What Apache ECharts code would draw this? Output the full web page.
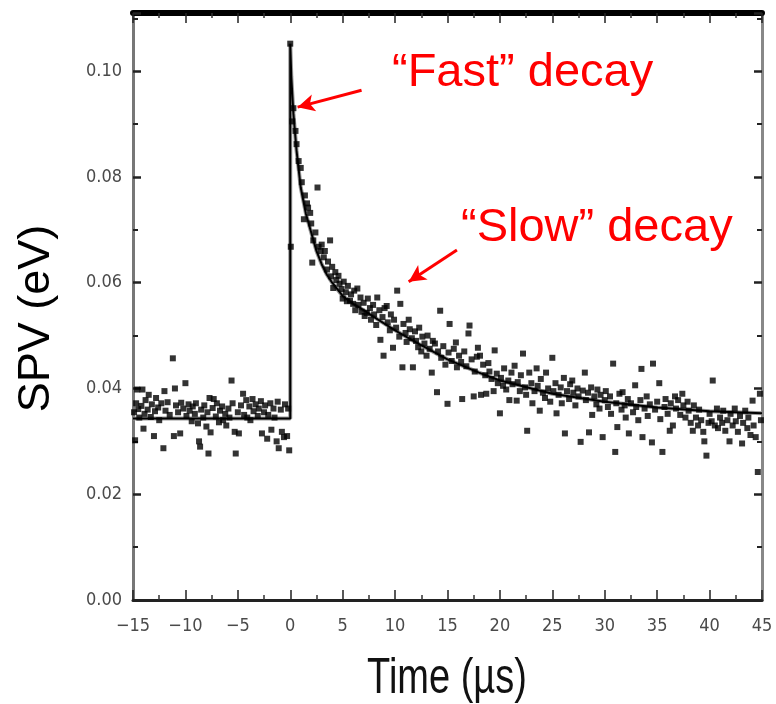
<!DOCTYPE html>
<html>
<head>
<meta charset="utf-8">
<script src="https://cdn.jsdelivr.net/npm/echarts@6/dist/echarts.min.js"></script>
<style>
html,body{margin:0;padding:0;background:#fff;}
#chart{width:776px;height:704px;}
</style>
</head>
<body>
<div id="chart"></div>
<script>
// x tick range (µs) and y range (eV)
var xTicks = [-15, -10, -5, 0, 5, 10, 15, 20, 25, 30, 35, 40, 45];
var yTicks = [0.00, 0.02, 0.04, 0.06, 0.08, 0.10];

// measured points before the pulse (t < 0)
var prePulse = [
[-14.9,0.0355],[-14.8,0.0302],[-14.7,0.0372],[-14.6,0.0398],[-14.5,0.0361],[-14.4,0.0345],[-14.2,0.0367],[-14.1,0.0398],[-14.0,0.0324],[-13.9,0.0352],[-13.8,0.0378],[-13.6,0.0360],[-13.5,0.0388],[-13.3,0.0346],[-13.2,0.0370],[-13.0,0.0310],[-12.9,0.0357],[-12.8,0.0382],[-12.6,0.0364],[-12.5,0.0340],[-12.3,0.0372],[-12.1,0.0287],[-12.0,0.0395],[-11.9,0.0358],[-11.7,0.0374],[-11.5,0.0350],[-11.2,0.0457],[-11.1,0.0310],[-11.0,0.0400],[-10.9,0.0368],[-10.7,0.0355],[-10.5,0.0315],[-10.4,0.0373],[-10.2,0.0362],[-10.0,0.0410],[-9.9,0.0348],[-9.7,0.0370],[-9.6,0.0358],[-9.4,0.0338],[-9.3,0.0366],[-9.1,0.0352],[-9.0,0.0372],[-8.8,0.0334],[-8.7,0.0300],[-8.6,0.0290],[-8.5,0.0360],[-8.3,0.0345],[-8.2,0.0368],[-8.0,0.0328],[-7.9,0.0355],[-7.8,0.0277],[-7.7,0.0382],[-7.6,0.0317],[-7.4,0.0363],[-7.3,0.0380],[-7.1,0.0347],[-7.0,0.0372],[-6.8,0.0336],[-6.7,0.0358],[-6.5,0.0366],[-6.4,0.0340],[-6.2,0.0352],[-6.1,0.0330],[-5.9,0.0362],[-5.8,0.0345],[-5.6,0.0415],[-5.5,0.0372],[-5.3,0.0318],[-5.2,0.0277],[-5.0,0.0355],[-4.9,0.0315],[-4.7,0.0368],[-4.5,0.0390],[-4.4,0.0350],[-4.2,0.0378],[-4.1,0.0345],[-3.9,0.0366],[-3.8,0.0340],[-3.6,0.0380],[-3.5,0.0357],[-3.3,0.0370],[-3.1,0.0348],[-3.0,0.0362],[-2.8,0.0376],[-2.7,0.0315],[-2.5,0.0355],[-2.4,0.0368],[-2.2,0.0305],[-2.1,0.0350],[-1.9,0.0372],[-1.8,0.0322],[-1.6,0.0362],[-1.5,0.0345],[-1.3,0.0300],[-1.2,0.0375],[-1.1,0.0287],[-0.9,0.0360],[-0.8,0.0318],[-0.6,0.0308],[-0.5,0.0370],[-0.3,0.0310],[-0.2,0.0362],[-0.1,0.0283]
];

// measured points, fast decay region (0 - 12 µs)
var fastDecay = [
[0.0,0.1052],[0.05,0.0668],[0.2,0.0905],[0.3,0.0930],[0.5,0.0887],[0.6,0.0862],[0.8,0.0830],[1.0,0.0817],[1.1,0.0790],[1.3,0.0720],[1.4,0.0765],[1.6,0.0750],[1.7,0.0742],[1.9,0.0732],[2.0,0.0712],[2.1,0.0638],[2.2,0.0680],[2.4,0.0695],[2.6,0.0780],[2.7,0.0668],[2.9,0.0660],[3.0,0.0672],[3.2,0.0648],[3.3,0.0660],[3.5,0.0625],[3.6,0.0640],[3.8,0.0680],[3.9,0.0612],[4.0,0.0630],[4.1,0.0590],[4.3,0.0620],[4.4,0.0605],[4.6,0.0613],[4.7,0.0598],[4.9,0.0588],[5.0,0.0570],[5.1,0.0602],
[5.3,0.0582],[5.4,0.0565],[5.5,0.0594],[5.7,0.0566],[5.8,0.0578],[6.0,0.0560],[6.1,0.0585],[6.2,0.0548],[6.4,0.0589],[6.5,0.0558],[6.7,0.0572],[6.8,0.0545],[7.0,0.0562],[7.1,0.0537],[7.3,0.0543],[7.4,0.0570],[7.6,0.0552],[7.7,0.0530],[7.9,0.0558],[8.0,0.0540],[8.2,0.0520],[8.3,0.0572],[8.5,0.0548],[8.6,0.0492],[8.8,0.0535],[8.9,0.0462],[9.0,0.0552],[9.2,0.0556],[9.3,0.0525],[9.5,0.0510],[9.6,0.0540],[9.8,0.0477],[9.9,0.0530],[10.1,0.0515],[10.2,0.0585],[10.4,0.0498],[10.5,0.0560],[10.7,0.0440],[10.8,0.0522],[11.0,0.0505],[11.1,0.0488],[11.3,0.0530],[11.4,0.0512],[11.6,0.0495],[11.7,0.0440],[11.9,0.0508]
];

// measured points, slow decay region (12 - 45 µs)
var slowDecay = [
[12.0,0.0490],[12.2,0.0478],[12.3,0.0515],[12.5,0.0470],[12.6,0.0498],[12.8,0.0485],[13.0,0.0462],[13.1,0.0500],[13.3,0.0475],[13.5,0.0430],[13.6,0.0490],[13.8,0.0485],[14.0,0.0393],[14.1,0.0470],[14.3,0.0547],[14.4,0.0458],[14.6,0.0480],[14.8,0.0445],[15.0,0.0371],[15.1,0.0468],[15.2,0.0522],[15.4,0.0452],[15.6,0.0475],[15.8,0.0487],[15.9,0.0440],[16.1,0.0462],[16.3,0.0450],[16.4,0.0380],[16.6,0.0470],[16.8,0.0442],[17.0,0.0504],[17.1,0.0519],[17.3,0.0455],[17.5,0.0385],[17.6,0.0432],[17.8,0.0460],[17.9,0.0477],[18.1,0.0462],[18.2,0.0388],[18.4,0.0445],[18.6,0.0425],[18.7,0.0390],[18.9,0.0448],[19.0,0.0432],[19.2,0.0418],[19.4,0.0395],[19.5,0.0472],[19.7,0.0428],[19.8,0.0410],
[20.0,0.0353],[20.1,0.0420],[20.3,0.0405],[20.4,0.0438],[20.6,0.0398],[20.8,0.0415],[20.9,0.0378],[21.1,0.0430],[21.2,0.0408],[21.4,0.0443],[21.6,0.0377],[21.7,0.0412],[21.9,0.0395],[22.0,0.0425],[22.2,0.0466],[22.4,0.0402],[22.5,0.0388],[22.6,0.0320],[22.8,0.0430],[23.0,0.0410],[23.1,0.0372],[23.3,0.0395],[23.5,0.0438],[23.6,0.0405],[23.8,0.0358],[23.9,0.0418],[24.1,0.0392],[24.3,0.0382],[24.4,0.0430],[24.6,0.0400],[24.8,0.0375],[25.0,0.0458],[25.1,0.0395],[25.3,0.0410],[25.4,0.0353],[25.6,0.0388],[25.8,0.0402],[25.9,0.0372],[26.1,0.0420],[26.2,0.0315],[26.4,0.0395],[26.6,0.0380],[26.7,0.0408],[26.9,0.0415],[27.0,0.0392],[27.2,0.0368],[27.4,0.0400],[27.5,0.0385],[27.7,0.0299],[27.9,0.0396],[28.1,0.0430],[28.2,0.0378],[28.4,0.0392],[28.5,0.0317],[28.7,0.0402],[28.8,0.0350],[29.0,0.0385],[29.2,0.0370],[29.3,0.0398],[29.5,0.0362],[29.6,0.0388],[29.8,0.0308],
[30.0,0.0378],[30.1,0.0395],[30.3,0.0365],[30.5,0.0385],[30.6,0.0352],[30.8,0.0447],[31.0,0.0280],[31.1,0.0372],[31.2,0.0327],[31.4,0.0390],[31.6,0.0360],[31.7,0.0393],[31.9,0.0368],[32.0,0.0345],[32.2,0.0380],[32.3,0.0315],[32.5,0.0372],[32.7,0.0355],[32.9,0.0406],[33.0,0.0365],[33.2,0.0340],[33.4,0.0378],[33.5,0.0437],[33.6,0.0308],[33.8,0.0362],[34.0,0.0385],[34.1,0.0348],[34.3,0.0370],[34.5,0.0298],[34.6,0.0447],[34.8,0.0360],[35.0,0.0375],[35.2,0.0410],[35.3,0.0342],[35.5,0.0280],[35.7,0.0365],[35.8,0.0380],[36.0,0.0352],[36.2,0.0320],[36.3,0.0372],[36.5,0.0330],[36.7,0.0385],[36.8,0.0362],[37.0,0.0378],[37.2,0.0350],[37.4,0.0390],[37.5,0.0368],[37.7,0.0345],[37.9,0.0375],[38.0,0.0358],[38.2,0.0335],[38.4,0.0320],[38.5,0.0368],[38.7,0.0345],[38.9,0.0330],[39.0,0.0360],[39.2,0.0340],[39.4,0.0318],[39.5,0.0300],[39.7,0.0273],[39.9,0.0335],[40.0,0.0352],[40.2,0.0338],[40.3,0.0415],[40.5,0.0330],[40.7,0.0362],[40.8,0.0325],[41.0,0.0345],[41.2,0.0335],[41.3,0.0358],[41.5,0.0320],[41.7,0.0340],[41.9,0.0300],[42.0,0.0352],[42.2,0.0330],[42.4,0.0362],[42.5,0.0338],[42.7,0.0318],[42.9,0.0348],[43.1,0.0296],[43.2,0.0335],[43.4,0.0358],[43.6,0.0325],[43.7,0.0345],[43.9,0.0312],[44.1,0.0377],[44.2,0.0330],[44.4,0.0308],[44.6,0.0242],[44.8,0.0390],[44.9,0.0340]
];

// fitted curve
var fitCurve = [
[-15,0.0343],[0,0.0343],[0,0.1052],[0.1,0.0990],[0.3,0.0920],[0.6,0.0850],[1.0,0.0780],[1.5,0.0730],[2.0,0.0695],[2.5,0.0660],[3.0,0.0635],[3.5,0.0615],[4,0.0600],[5,0.0575],[6,0.0560],[7,0.0548],[8,0.0535],[10,0.0510],[12,0.0487],[15,0.0455],[18,0.0430],[20,0.0415],[25,0.0390],[30,0.0375],[35,0.0364],[40,0.0357],[45,0.0353]
];

// annotation arrows (data coordinates: [from, to])
var fastArrow = [[6.8,0.0964],[0.7,0.0932]];
var slowArrow = [[15.9,0.0662],[11.3,0.0602]];

var allPoints = prePulse.concat(fastDecay, slowDecay);

var narrow = "'Liberation Sans Narrow','DejaVu Sans Condensed','Arial Narrow',sans-serif";
var sans = "'Liberation Sans',Arial,Helvetica,sans-serif";

var chart = echarts.init(document.getElementById('chart'), null, {renderer:'canvas'});

var xBase = {
  type:'value', min:xTicks[0], max:xTicks[xTicks.length-1], interval:5,
  splitLine:{show:false},
  minorTick:{show:true, splitNumber:2, length:5, lineStyle:{color:'#333', width:1.5}},
  axisTick:{show:true, inside:true, length:10, lineStyle:{color:'#222', width:1.5}}
};
var yBase = {
  type:'value', min:yTicks[0], max:0.111, interval:0.02,
  splitLine:{show:false},
  minorTick:{show:true, splitNumber:2, length:5, lineStyle:{color:'#222', width:2}},
  axisTick:{show:true, inside:true, length:8, lineStyle:{color:'#222', width:2.5}}
};

var option = {
  backgroundColor:'#fff',
  animation:false,
  grid:{left:133, right:14, top:13, bottom:104, containLabel:false, outerBoundsMode:'none'},
  xAxis:[
    Object.assign({}, xBase, {
      position:'bottom',
      axisLine:{show:true, onZero:false, lineStyle:{color:'#222', width:3}},
      axisLabel:{show:true, margin:17, color:'#4a4a4a', fontSize:18, fontFamily:narrow,
        formatter:function(v){ return String(v).replace('-', '\u2212'); }}
    }),
    Object.assign({}, xBase, {
      position:'top',
      axisLine:{show:true, onZero:false, lineStyle:{color:'#000', width:6}},
      axisLabel:{show:false}
    })
  ],
  yAxis:[
    Object.assign({}, yBase, {
      position:'left',
      axisLine:{show:true, onZero:false, lineStyle:{color:'#777', width:3}},
      axisLabel:{show:true, margin:11, color:'#4a4a4a', fontSize:18, fontFamily:narrow,
        showMaxLabel:false,
        formatter:function(v){ return v.toFixed(2); }},
      name:'SPV (eV)', nameLocation:'middle', nameGap:74, nameRotate:90,
      nameTextStyle:{fontSize:45, fontFamily:sans, color:'#000', padding:[0,24,0,0]}
    }),
    Object.assign({}, yBase, {
      position:'right',
      axisLine:{show:true, onZero:false, lineStyle:{color:'#888', width:3}},
      axisLabel:{show:false}
    })
  ],
  graphic:[
    {type:'text', left:392, top:50, style:{text:'\u201cFast\u201d decay', fill:'#ff0000', font:'47px '+sans}},
    {type:'text', left:461, top:205, style:{text:'\u201cSlow\u201d decay', fill:'#ff0000', font:'47px '+sans}},
    {type:'text', x:447, y:679, scaleX:0.76, style:{text:'Time (\u00b5s)', fill:'#111', font:'50px '+sans, align:'center', verticalAlign:'middle'}}
  ],
  series:[
    {
      type:'line', name:'fit-shadow', data:fitCurve, showSymbol:false, silent:true,
      lineStyle:{color:'#999', width:4}, z:1
    },
    {
      type:'scatter', name:'SPV', data:allPoints, symbol:'rect', symbolSize:6,
      itemStyle:{color:'#000'}, z:2
    },
    {
      type:'line', name:'fit', data:fitCurve, showSymbol:false, silent:true,
      lineStyle:{color:'#000', width:2}, z:3,
      markLine:{
        silent:true, symbol:['none','arrow'], symbolSize:[13,17],
        label:{show:false},
        lineStyle:{color:'#ff0000', width:3, type:'solid'},
        data:[
          [{coord:fastArrow[0]},{coord:fastArrow[1]}],
          [{coord:slowArrow[0]},{coord:slowArrow[1]}]
        ]
      }
    }
  ]
};
chart.setOption(option);
</script>
</body>
</html>
